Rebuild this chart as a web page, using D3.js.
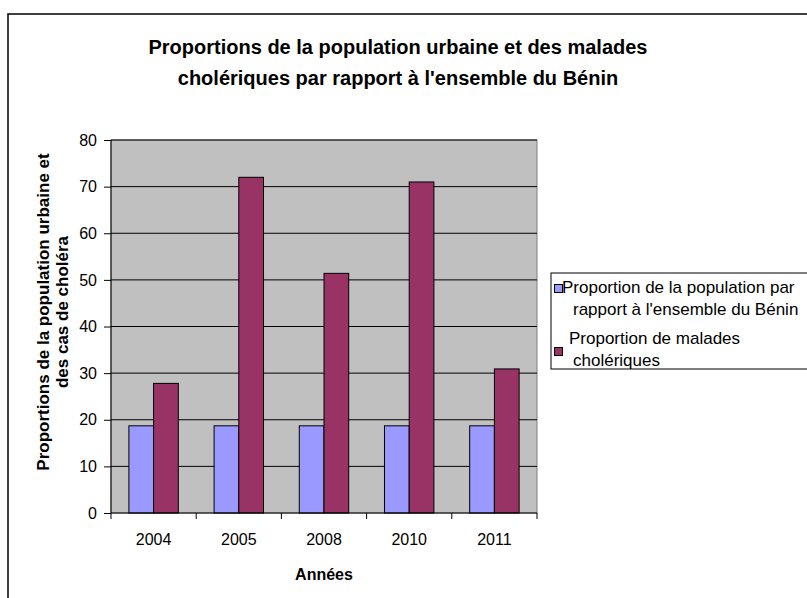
<!DOCTYPE html>
<html>
  <head>
    <meta charset="utf-8" />
    <title>Bénin</title>
    <script src="https://cdn.jsdelivr.net/npm/d3@7"></script>
    <style>
      body { margin: 0; background: #fff; }
      text { font-family: "Liberation Sans", Arial, sans-serif; }
    </style>
  </head>
  <body>
    <svg width="807" height="598" id="mainsvg"></svg>
    <script>
      const years = ["2004", "2005", "2008", "2010", "2011"];
      const popUrbaine = [18.7, 18.7, 18.7, 18.7, 18.7];
      const maladesCholera = [27.8, 72.0, 51.4, 71.0, 30.9];
      const yTicks = [0, 10, 20, 30, 40, 50, 60, 70, 80];
      const seriesNames = [
        ["Proportion de la population par", "rapport à l'ensemble du Bénin"],
        [" Proportion de malades", "cholériques"],
      ];
      const colors = ["#9999FF", "#993366"];

      const svg = d3.select("#mainsvg");
      const margin = { top: 140, left: 111 };
      const innerWidth = 537 - 111;
      const innerHeight = 513 - 140;

      // cadre extérieur (déborde à droite et en bas)
      svg.append("rect")
        .attr("x", 8).attr("y", 14)
        .attr("width", 820).attr("height", 600)
        .attr("fill", "white").attr("stroke", "black").attr("stroke-width", 1.5);

      const title = svg.append("text")
        .attr("text-anchor", "middle")
        .attr("font-size", "20px").attr("font-weight", "bold");
      title.append("tspan").attr("x", 398).attr("y", 54)
        .text("Proportions de la population urbaine et des malades");
      title.append("tspan").attr("x", 398).attr("y", 85)
        .text("cholériques par rapport à l'ensemble du Bénin");

      const g = svg.append("g")
        .attr("transform", `translate(${margin.left}, ${margin.top})`);

      const x0 = d3.scaleBand().domain(years).range([0, innerWidth]).paddingInner(0.42).paddingOuter(0.21);
      const x1 = d3.scaleBand().domain([0, 1]).range([0, x0.bandwidth()]);
      const y = d3.scaleLinear().domain([0, 80]).range([innerHeight, 0]);

      g.append("rect")
        .attr("width", innerWidth).attr("height", innerHeight)
        .attr("fill", "#C0C0C0").attr("stroke", "#808080");

      g.append("g").selectAll("line").data(yTicks.slice(1)).join("line")
        .attr("x1", 0).attr("x2", innerWidth)
        .attr("y1", (d) => y(d)).attr("y2", (d) => y(d))
        .attr("stroke", "black").attr("stroke-width", 1);

      const series = [popUrbaine, maladesCholera];
      series.forEach((vals, s) => {
        g.append("g").selectAll("rect").data(vals).join("rect")
          .attr("x", (d, i) => x0(years[i]) + x1(s))
          .attr("y", (d) => y(d))
          .attr("width", x1.bandwidth())
          .attr("height", (d) => innerHeight - y(d))
          .attr("fill", colors[s])
          .attr("stroke", "black").attr("stroke-width", 1);
      });

      const yAxis = d3.axisLeft(y).tickValues(yTicks).tickSize(7).tickPadding(7);
      const yg = g.append("g").call(yAxis);
      yg.select(".domain").attr("d", `M0,0V${innerHeight}`);

      const xAxis = d3.axisBottom(x0).tickSize(0).tickPadding(21);
      const xg = g.append("g").attr("transform", `translate(0, ${innerHeight})`).call(xAxis);
      xg.select(".domain").attr("d", `M0,0H${innerWidth}`);
      // graduations entre les catégories
      const step = x0.step();
      xg.selectAll(".sep").data(d3.range(years.length + 1)).join("line")
        .attr("x1", (d) => d * step).attr("x2", (d) => d * step)
        .attr("y1", 0).attr("y2", 6).attr("stroke", "black");

      g.selectAll(".tick text").attr("font-size", "16px").attr("fill", "black")
        .attr("font-family", "Liberation Sans, Arial, sans-serif");

      g.append("text")
        .attr("x", innerWidth / 2).attr("y", innerHeight + 67)
        .attr("text-anchor", "middle").attr("font-size", "16px").attr("font-weight", "bold")
        .text("Années");

      const yt = svg.append("text")
        .attr("transform", `translate(49, 312) rotate(-90)`)
        .attr("text-anchor", "middle").attr("font-size", "17px").attr("font-weight", "bold");
      yt.append("tspan").attr("x", 0).attr("y", 0).text("Proportions de la population urbaine et");
      yt.append("tspan").attr("x", 0).attr("y", 19).text("des cas de choléra");

      // légende
      const lg = svg.append("g").attr("transform", "translate(551, 273)");
      lg.append("rect").attr("width", 300).attr("height", 96)
        .attr("fill", "white").attr("stroke", "black");
      const rowY = [20, 71];
      const keyY = [11.5, 74.5];
      seriesNames.forEach((lines, s) => {
        const yy = rowY[s];
        lg.append("rect").attr("x", 3.5).attr("y", keyY[s])
          .attr("width", 8).attr("height", 8)
          .attr("fill", colors[s]).attr("stroke", "black");
        const t = lg.append("text").attr("font-size", "17px");
        t.append("tspan").attr("x", s === 0 ? 11 : 18).attr("y", yy).text(lines[0]);
        t.append("tspan").attr("x", 22).attr("y", yy + 22).text(lines[1]);
      });
    </script>
  </body>
</html>
